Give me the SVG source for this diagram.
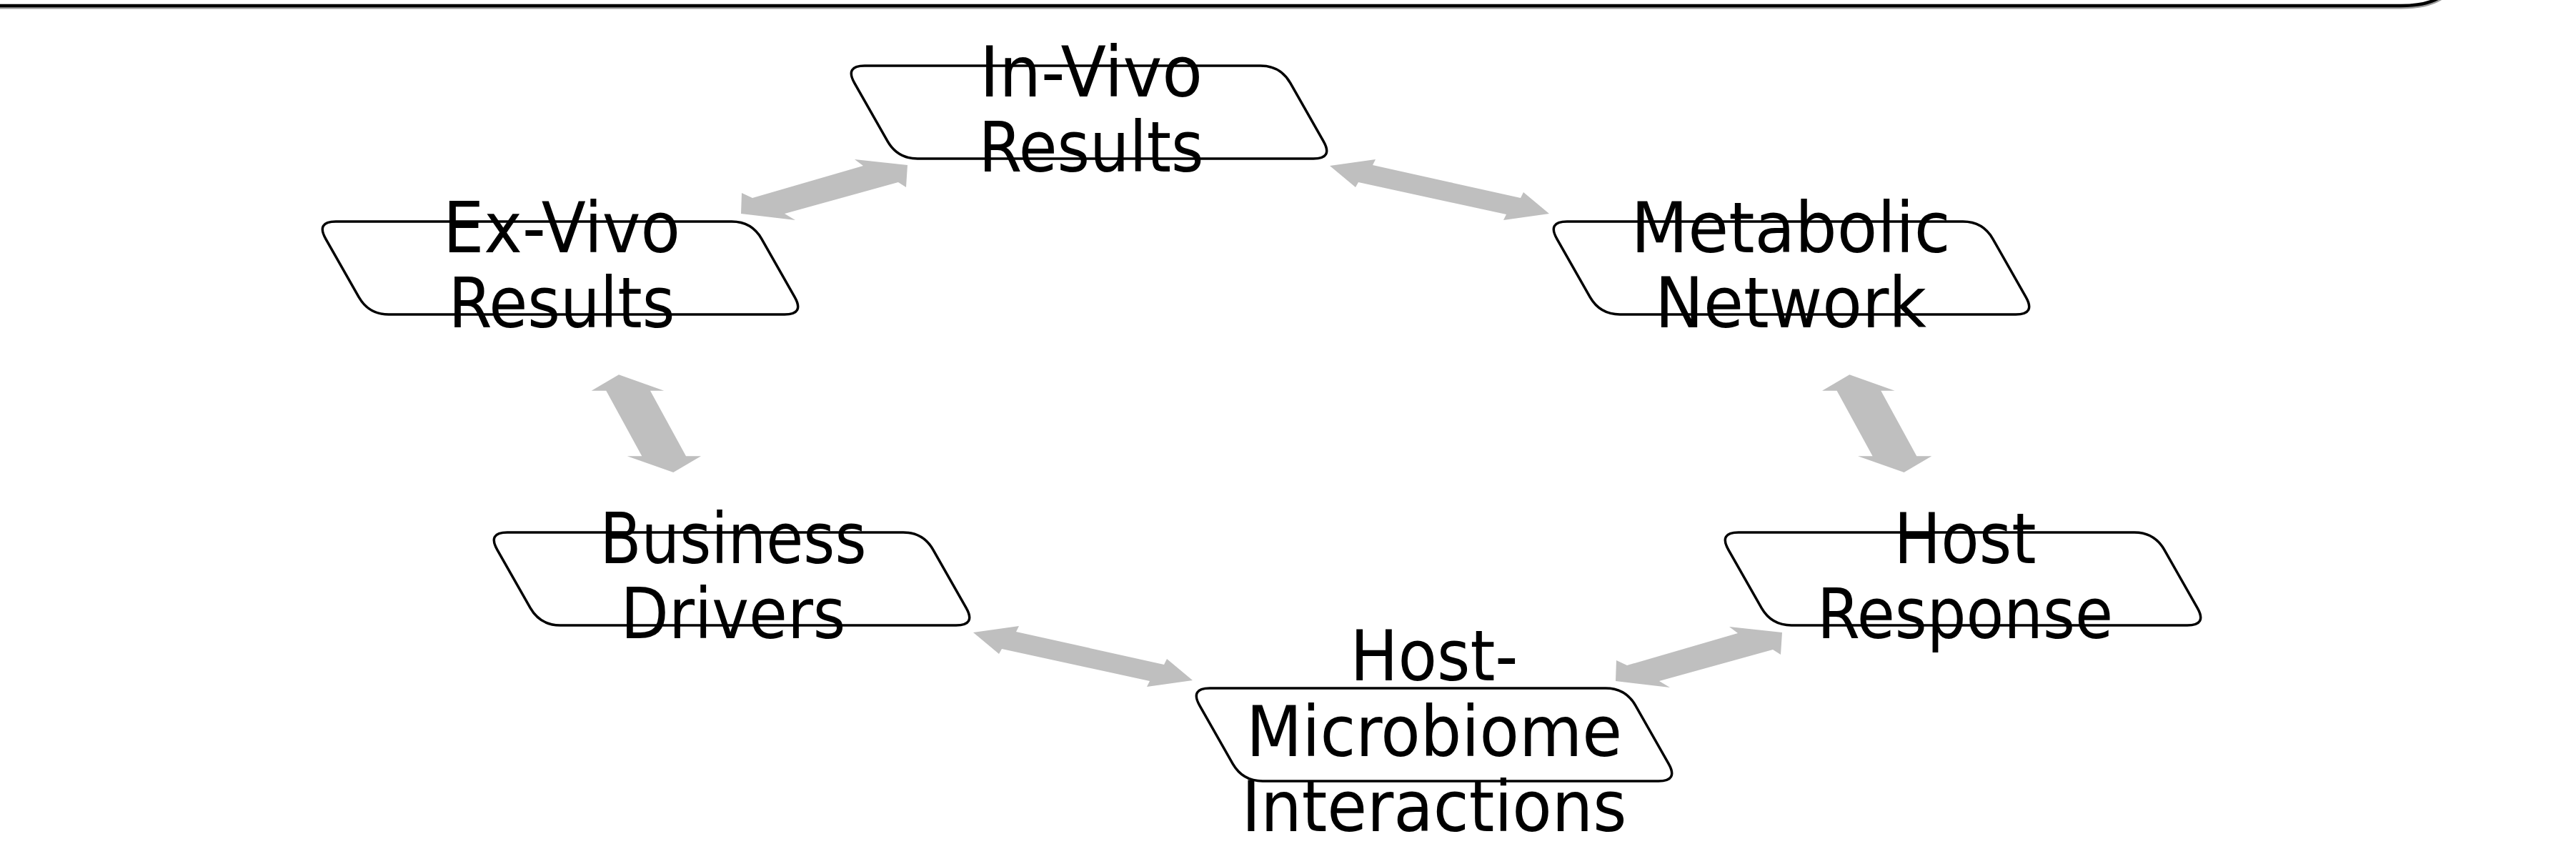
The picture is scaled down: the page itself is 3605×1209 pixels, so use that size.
<svg xmlns="http://www.w3.org/2000/svg" xmlns:xlink="http://www.w3.org/1999/xlink" width="3605" height="1209" viewBox="0 0 3605 1209">
<style>
.box{fill:#ffffff;stroke:#000000;stroke-width:3.5}
.lbl{font-family:"DejaVu Sans Condensed","DejaVu Sans",sans-serif;font-size:98px;fill:#000000;text-anchor:middle}
.arr{fill:#bfbfbf;stroke:none}
.frame{fill:none;stroke:#000000;stroke-width:4.5}
</style>
<defs>
<path id="para" d="M28,0 L582,0 Q610,0 623.9,24.3 L670.1,105.7 Q684,130 656,130 L102,130 Q74,130 60.1,105.7 L13.9,24.3 Q0,0 28,0 Z"/>
<polygon id="arrA" points="1038,270 1053,277 1208,232 1196,223 1270,231 1268,262 1257,255 1098,299 1113,308 1037,299"/>
<polygon id="arrB" points="1861,232 1925,223 1921,231 2128,277 2132,269 2168,299 2104,308 2108,300 1901,255 1897,262"/>
<polygon id="arrV" points="866,524.3 929.3,546.7 910,546.7 960,638.3 981,638.3 942.3,661 877.7,638.3 898.3,638.3 848.3,546.7 827.7,546.7"/>
</defs>
<rect width="3605" height="1209" fill="#ffffff"/>
<g id="frame">
<path d="M-5,11 L3360,11 Q3418,11 3434,-20" fill="none" stroke="#9a9a9a" stroke-width="3"/>
<path class="frame" d="M-5,8 L3360,8 Q3415,8 3430,-20"/>
</g>
<g id="connectors">
<use href="#arrA" class="arr"/>
<use href="#arrB" class="arr"/>
<use href="#arrV" class="arr"/>
<use href="#arrV" class="arr" x="1722.3" y="0"/>
<use href="#arrB" class="arr" x="-499" y="653"/>
<use href="#arrA" class="arr" x="1224" y="654"/>
</g>
<g id="node-invivo">
<use href="#para" class="box" x="1182" y="92"/>
<text class="lbl" x="1527" y="135" textLength="312" lengthAdjust="spacingAndGlyphs">In-Vivo</text>
<text class="lbl" x="1527" y="240" textLength="315" lengthAdjust="spacingAndGlyphs">Results</text>
</g>
<g id="node-exvivo">
<use href="#para" class="box" x="442" y="310"/>
<text class="lbl" x="786" y="353" textLength="332" lengthAdjust="spacingAndGlyphs">Ex-Vivo</text>
<text class="lbl" x="786" y="458" textLength="317" lengthAdjust="spacingAndGlyphs">Results</text>
</g>
<g id="node-metabolic">
<use href="#para" class="box" x="2165" y="310"/>
<text class="lbl" x="2506" y="353" textLength="447" lengthAdjust="spacingAndGlyphs">Metabolic</text>
<text class="lbl" x="2506" y="458" textLength="380" lengthAdjust="spacingAndGlyphs">Network</text>
</g>
<g id="node-business">
<use href="#para" class="box" x="682" y="745"/>
<text class="lbl" x="1026" y="788" textLength="373" lengthAdjust="spacingAndGlyphs">Business</text>
<text class="lbl" x="1026" y="893" textLength="315" lengthAdjust="spacingAndGlyphs">Drivers</text>
</g>
<g id="node-hostresponse">
<use href="#para" class="box" x="2405" y="745"/>
<text class="lbl" x="2750" y="788" textLength="199" lengthAdjust="spacingAndGlyphs">Host</text>
<text class="lbl" x="2750" y="893" textLength="414" lengthAdjust="spacingAndGlyphs">Response</text>
</g>
<g id="node-hostmicrobiome">
<use href="#para" class="box" x="1665" y="963"/>
<text class="lbl" x="2007" y="952" textLength="235" lengthAdjust="spacingAndGlyphs">Host-</text>
<text class="lbl" x="2007" y="1058" textLength="526" lengthAdjust="spacingAndGlyphs">Microbiome</text>
<text class="lbl" x="2007" y="1163" textLength="539" lengthAdjust="spacingAndGlyphs">Interactions</text>
</g>
</svg>
